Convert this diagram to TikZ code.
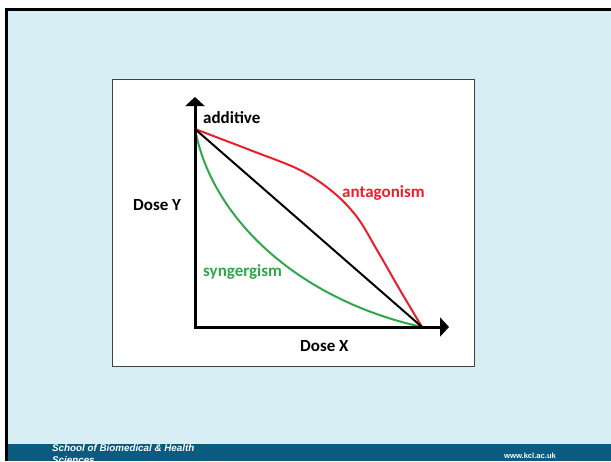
\documentclass[tikz,border=0pt]{standalone}
\usepackage{fontspec}
\setmainfont{Carlito}
\newfontfamily\footfont{Liberation Sans}
\usetikzlibrary{arrows.meta}
\definecolor{slidebg}{RGB}{214,238,244}
\definecolor{band}{RGB}{11,90,127}
\definecolor{antred}{RGB}{232,32,44}
\definecolor{syngreen}{RGB}{46,168,72}
\tikzset{
  lbl/.style={font=\fontsize{17}{19}\selectfont\bfseries, inner sep=0pt, anchor=west},
  axis/.style={line width=3pt, -{Triangle[width=19pt,length=9pt]}},
  curve/.style={line width=2pt},
}
\begin{document}
\begin{tikzpicture}[x=1pt,y=-1pt]
\useasboundingbox (0,0) rectangle (611,461);
% slide
\fill[white] (0,0) rectangle (611,461);
\fill[slidebg] (5,8) rectangle (611,461);
\fill[black] (5,8) rectangle (611,11);
\fill[black] (5,8) rectangle (8,461);
\fill[band] (8,444) rectangle (611,461);
% footer
\node[font=\footfont\fontsize{9.8}{12}\selectfont\bfseries\itshape, text=white, anchor=north west, inner sep=0pt, align=left] (school) at (52,444) {School of Biomedical \& Health\\Sciences};
\node[font=\footfont\fontsize{7.6}{9}\selectfont\bfseries, text=white, anchor=west, inner sep=0pt] (web) at (504,455.5) {www.kcl.ac.uk};
% figure box
\draw[fill=white, draw=black!75, line width=1pt] (112,79) rectangle (474,366);
\coordinate (O) at (195,327);
\coordinate (A) at (195,129);
\coordinate (B) at (422,327);
\coordinate (YT) at (195,97);
\coordinate (XT) at (449,327);
% curves
\draw[curve, antred] plot[smooth, tension=0.55] coordinates {(A) (250,150) (300,170) (333,192) (357,217) (377,250) (400,290) (B)};
\draw[curve, syngreen] (A) .. controls (212,220) and (300,300) .. (B);
\draw[curve, black] (A) -- (B);
% axes
\draw[axis] (195,328.5) -- (YT);
\draw[axis] (193.5,327) -- (XT);
% labels
\node[lbl] (add) at (203,118) {additive};
\node[lbl, text=antred] (ant) at (342,193) {antagonism};
\node[lbl, text=syngreen] (syn) at (203,272) {syngergism};
\node[lbl] (dy) at (133,205) {Dose Y};
\node[lbl] (dx) at (300,346) {Dose X};
\end{tikzpicture}
\end{document}
